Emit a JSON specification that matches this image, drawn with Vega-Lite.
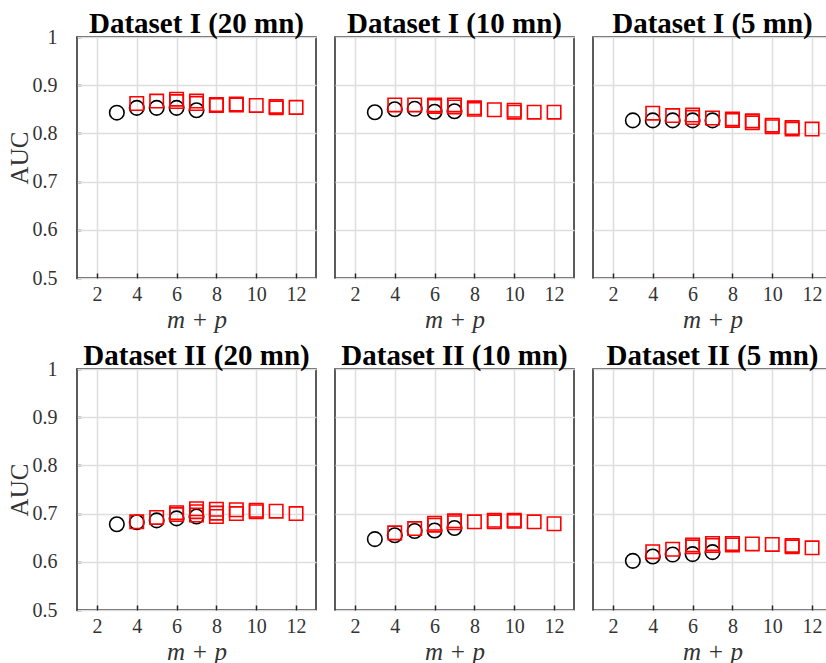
{
  "$schema": "https://vega.github.io/schema/vega-lite/v6.json",
  "padding": {"left": 7, "top": 9, "right": 0, "bottom": 0},
  "data": {"values": [
    {"panel": "Dataset I (20 mn)", "series": "circle", "x": 3, "auc": 0.843},
    {"panel": "Dataset I (20 mn)", "series": "circle", "x": 4, "auc": 0.853},
    {"panel": "Dataset I (20 mn)", "series": "circle", "x": 5, "auc": 0.853},
    {"panel": "Dataset I (20 mn)", "series": "circle", "x": 6, "auc": 0.853},
    {"panel": "Dataset I (20 mn)", "series": "circle", "x": 7, "auc": 0.848},
    {"panel": "Dataset I (20 mn)", "series": "square", "x": 4, "auc": 0.862},
    {"panel": "Dataset I (20 mn)", "series": "square", "x": 5, "auc": 0.867},
    {"panel": "Dataset I (20 mn)", "series": "square", "x": 6, "auc": 0.871},
    {"panel": "Dataset I (20 mn)", "series": "square", "x": 6, "auc": 0.866},
    {"panel": "Dataset I (20 mn)", "series": "square", "x": 7, "auc": 0.867},
    {"panel": "Dataset I (20 mn)", "series": "square", "x": 7, "auc": 0.862},
    {"panel": "Dataset I (20 mn)", "series": "square", "x": 8, "auc": 0.860},
    {"panel": "Dataset I (20 mn)", "series": "square", "x": 8, "auc": 0.858},
    {"panel": "Dataset I (20 mn)", "series": "square", "x": 9, "auc": 0.861},
    {"panel": "Dataset I (20 mn)", "series": "square", "x": 9, "auc": 0.859},
    {"panel": "Dataset I (20 mn)", "series": "square", "x": 10, "auc": 0.858},
    {"panel": "Dataset I (20 mn)", "series": "square", "x": 11, "auc": 0.856},
    {"panel": "Dataset I (20 mn)", "series": "square", "x": 11, "auc": 0.853},
    {"panel": "Dataset I (20 mn)", "series": "square", "x": 12, "auc": 0.854},

    {"panel": "Dataset I (10 mn)", "series": "circle", "x": 3, "auc": 0.844},
    {"panel": "Dataset I (10 mn)", "series": "circle", "x": 4, "auc": 0.850},
    {"panel": "Dataset I (10 mn)", "series": "circle", "x": 5, "auc": 0.851},
    {"panel": "Dataset I (10 mn)", "series": "circle", "x": 6, "auc": 0.845},
    {"panel": "Dataset I (10 mn)", "series": "circle", "x": 7, "auc": 0.846},
    {"panel": "Dataset I (10 mn)", "series": "square", "x": 4, "auc": 0.859},
    {"panel": "Dataset I (10 mn)", "series": "square", "x": 5, "auc": 0.859},
    {"panel": "Dataset I (10 mn)", "series": "square", "x": 6, "auc": 0.859},
    {"panel": "Dataset I (10 mn)", "series": "square", "x": 6, "auc": 0.856},
    {"panel": "Dataset I (10 mn)", "series": "square", "x": 7, "auc": 0.859},
    {"panel": "Dataset I (10 mn)", "series": "square", "x": 7, "auc": 0.855},
    {"panel": "Dataset I (10 mn)", "series": "square", "x": 8, "auc": 0.853},
    {"panel": "Dataset I (10 mn)", "series": "square", "x": 8, "auc": 0.850},
    {"panel": "Dataset I (10 mn)", "series": "square", "x": 9, "auc": 0.849},
    {"panel": "Dataset I (10 mn)", "series": "square", "x": 10, "auc": 0.848},
    {"panel": "Dataset I (10 mn)", "series": "square", "x": 10, "auc": 0.844},
    {"panel": "Dataset I (10 mn)", "series": "square", "x": 11, "auc": 0.844},
    {"panel": "Dataset I (10 mn)", "series": "square", "x": 12, "auc": 0.844},

    {"panel": "Dataset I (5 mn)", "series": "circle", "x": 3, "auc": 0.827},
    {"panel": "Dataset I (5 mn)", "series": "circle", "x": 4, "auc": 0.827},
    {"panel": "Dataset I (5 mn)", "series": "circle", "x": 5, "auc": 0.827},
    {"panel": "Dataset I (5 mn)", "series": "circle", "x": 6, "auc": 0.827},
    {"panel": "Dataset I (5 mn)", "series": "circle", "x": 7, "auc": 0.827},
    {"panel": "Dataset I (5 mn)", "series": "square", "x": 4, "auc": 0.842},
    {"panel": "Dataset I (5 mn)", "series": "square", "x": 5, "auc": 0.837},
    {"panel": "Dataset I (5 mn)", "series": "square", "x": 6, "auc": 0.838},
    {"panel": "Dataset I (5 mn)", "series": "square", "x": 6, "auc": 0.833},
    {"panel": "Dataset I (5 mn)", "series": "square", "x": 7, "auc": 0.832},
    {"panel": "Dataset I (5 mn)", "series": "square", "x": 8, "auc": 0.830},
    {"panel": "Dataset I (5 mn)", "series": "square", "x": 8, "auc": 0.827},
    {"panel": "Dataset I (5 mn)", "series": "square", "x": 9, "auc": 0.826},
    {"panel": "Dataset I (5 mn)", "series": "square", "x": 9, "auc": 0.822},
    {"panel": "Dataset I (5 mn)", "series": "square", "x": 10, "auc": 0.817},
    {"panel": "Dataset I (5 mn)", "series": "square", "x": 10, "auc": 0.814},
    {"panel": "Dataset I (5 mn)", "series": "square", "x": 11, "auc": 0.812},
    {"panel": "Dataset I (5 mn)", "series": "square", "x": 11, "auc": 0.809},
    {"panel": "Dataset I (5 mn)", "series": "square", "x": 12, "auc": 0.809},

    {"panel": "Dataset II (20 mn)", "series": "circle", "x": 3, "auc": 0.678},
    {"panel": "Dataset II (20 mn)", "series": "circle", "x": 4, "auc": 0.682},
    {"panel": "Dataset II (20 mn)", "series": "circle", "x": 5, "auc": 0.686},
    {"panel": "Dataset II (20 mn)", "series": "circle", "x": 6, "auc": 0.690},
    {"panel": "Dataset II (20 mn)", "series": "circle", "x": 7, "auc": 0.694},
    {"panel": "Dataset II (20 mn)", "series": "square", "x": 4, "auc": 0.683},
    {"panel": "Dataset II (20 mn)", "series": "square", "x": 5, "auc": 0.692},
    {"panel": "Dataset II (20 mn)", "series": "square", "x": 6, "auc": 0.698},
    {"panel": "Dataset II (20 mn)", "series": "square", "x": 6, "auc": 0.702},
    {"panel": "Dataset II (20 mn)", "series": "square", "x": 7, "auc": 0.697},
    {"panel": "Dataset II (20 mn)", "series": "square", "x": 7, "auc": 0.704},
    {"panel": "Dataset II (20 mn)", "series": "square", "x": 7, "auc": 0.710},
    {"panel": "Dataset II (20 mn)", "series": "square", "x": 8, "auc": 0.694},
    {"panel": "Dataset II (20 mn)", "series": "square", "x": 8, "auc": 0.701},
    {"panel": "Dataset II (20 mn)", "series": "square", "x": 8, "auc": 0.709},
    {"panel": "Dataset II (20 mn)", "series": "square", "x": 9, "auc": 0.700},
    {"panel": "Dataset II (20 mn)", "series": "square", "x": 9, "auc": 0.708},
    {"panel": "Dataset II (20 mn)", "series": "square", "x": 10, "auc": 0.704},
    {"panel": "Dataset II (20 mn)", "series": "square", "x": 10, "auc": 0.707},
    {"panel": "Dataset II (20 mn)", "series": "square", "x": 11, "auc": 0.705},
    {"panel": "Dataset II (20 mn)", "series": "square", "x": 12, "auc": 0.700},

    {"panel": "Dataset II (10 mn)", "series": "circle", "x": 3, "auc": 0.647},
    {"panel": "Dataset II (10 mn)", "series": "circle", "x": 4, "auc": 0.655},
    {"panel": "Dataset II (10 mn)", "series": "circle", "x": 5, "auc": 0.664},
    {"panel": "Dataset II (10 mn)", "series": "circle", "x": 6, "auc": 0.665},
    {"panel": "Dataset II (10 mn)", "series": "circle", "x": 7, "auc": 0.670},
    {"panel": "Dataset II (10 mn)", "series": "square", "x": 4, "auc": 0.660},
    {"panel": "Dataset II (10 mn)", "series": "square", "x": 5, "auc": 0.669},
    {"panel": "Dataset II (10 mn)", "series": "square", "x": 6, "auc": 0.676},
    {"panel": "Dataset II (10 mn)", "series": "square", "x": 6, "auc": 0.680},
    {"panel": "Dataset II (10 mn)", "series": "square", "x": 7, "auc": 0.681},
    {"panel": "Dataset II (10 mn)", "series": "square", "x": 7, "auc": 0.685},
    {"panel": "Dataset II (10 mn)", "series": "square", "x": 8, "auc": 0.683},
    {"panel": "Dataset II (10 mn)", "series": "square", "x": 9, "auc": 0.683},
    {"panel": "Dataset II (10 mn)", "series": "square", "x": 9, "auc": 0.686},
    {"panel": "Dataset II (10 mn)", "series": "square", "x": 10, "auc": 0.684},
    {"panel": "Dataset II (10 mn)", "series": "square", "x": 10, "auc": 0.686},
    {"panel": "Dataset II (10 mn)", "series": "square", "x": 11, "auc": 0.683},
    {"panel": "Dataset II (10 mn)", "series": "square", "x": 12, "auc": 0.679},

    {"panel": "Dataset II (5 mn)", "series": "circle", "x": 3, "auc": 0.602},
    {"panel": "Dataset II (5 mn)", "series": "circle", "x": 4, "auc": 0.611},
    {"panel": "Dataset II (5 mn)", "series": "circle", "x": 5, "auc": 0.615},
    {"panel": "Dataset II (5 mn)", "series": "circle", "x": 6, "auc": 0.616},
    {"panel": "Dataset II (5 mn)", "series": "circle", "x": 7, "auc": 0.620},
    {"panel": "Dataset II (5 mn)", "series": "square", "x": 4, "auc": 0.621},
    {"panel": "Dataset II (5 mn)", "series": "square", "x": 5, "auc": 0.626},
    {"panel": "Dataset II (5 mn)", "series": "square", "x": 6, "auc": 0.631},
    {"panel": "Dataset II (5 mn)", "series": "square", "x": 6, "auc": 0.635},
    {"panel": "Dataset II (5 mn)", "series": "square", "x": 7, "auc": 0.634},
    {"panel": "Dataset II (5 mn)", "series": "square", "x": 7, "auc": 0.638},
    {"panel": "Dataset II (5 mn)", "series": "square", "x": 8, "auc": 0.635},
    {"panel": "Dataset II (5 mn)", "series": "square", "x": 8, "auc": 0.638},
    {"panel": "Dataset II (5 mn)", "series": "square", "x": 9, "auc": 0.637},
    {"panel": "Dataset II (5 mn)", "series": "square", "x": 10, "auc": 0.636},
    {"panel": "Dataset II (5 mn)", "series": "square", "x": 11, "auc": 0.631},
    {"panel": "Dataset II (5 mn)", "series": "square", "x": 11, "auc": 0.634},
    {"panel": "Dataset II (5 mn)", "series": "square", "x": 12, "auc": 0.629}
  ]},
  "columns": 3,
  "spacing": {"row": 8, "column": 17},
  "facet": {
    "field": "panel",
    "type": "nominal",
    "sort": ["Dataset I (20 mn)", "Dataset I (10 mn)", "Dataset I (5 mn)", "Dataset II (20 mn)", "Dataset II (10 mn)", "Dataset II (5 mn)"],
    "header": {"title": null, "labelFont": "Liberation Serif", "labelFontWeight": "bold", "labelFontSize": 29, "labelColor": "#000000", "labelPadding": -2}
  },
  "spec": {
    "width": 239,
    "height": 241,
    "mark": {"type": "point", "filled": false, "strokeWidth": 1.6, "opacity": 1},
    "encoding": {
      "x": {"field": "x", "type": "quantitative", "scale": {"domain": [1, 13], "nice": false},
        "axis": {"title": "m + p", "titleFontStyle": "italic", "values": [2, 4, 6, 8, 10, 12], "labelPadding": 11, "titlePadding": 3}},
      "y": {"field": "auc", "type": "quantitative", "scale": {"domain": [0.5, 1], "nice": false, "zero": false},
        "axis": {"title": "AUC", "values": [0.5, 0.6, 0.7, 0.8, 0.9, 1], "format": "~g", "labelPadding": 24, "titlePadding": 0}},
      "shape": {"field": "series", "type": "nominal", "scale": {"domain": ["circle", "square"], "range": ["circle", "square"]}, "legend": null},
      "size": {"field": "series", "type": "nominal", "scale": {"domain": ["circle", "square"], "range": [210, 180]}, "legend": null},
      "color": {"field": "series", "type": "nominal", "scale": {"domain": ["circle", "square"], "range": ["#000000", "#ff0000"]}, "legend": null}
    }
  },
  "resolve": {"axis": {"x": "independent"}},
  "config": {
    "font": "Liberation Serif",
    "view": {"stroke": "#262626", "strokeWidth": 1.5},
    "axis": {
      "grid": true, "gridColor": "#dedede", "gridWidth": 1.5,
      "domain": false,
      "ticks": true, "tickColor": "#262626", "tickSize": -5, "tickWidth": 1.5,
      "labelFont": "Liberation Serif", "labelFontSize": 20, "labelColor": "#333333",
      "titleFont": "Liberation Serif", "titleFontSize": 25, "titleFontWeight": "normal", "titleColor": "#333333"
    }
  }
}
